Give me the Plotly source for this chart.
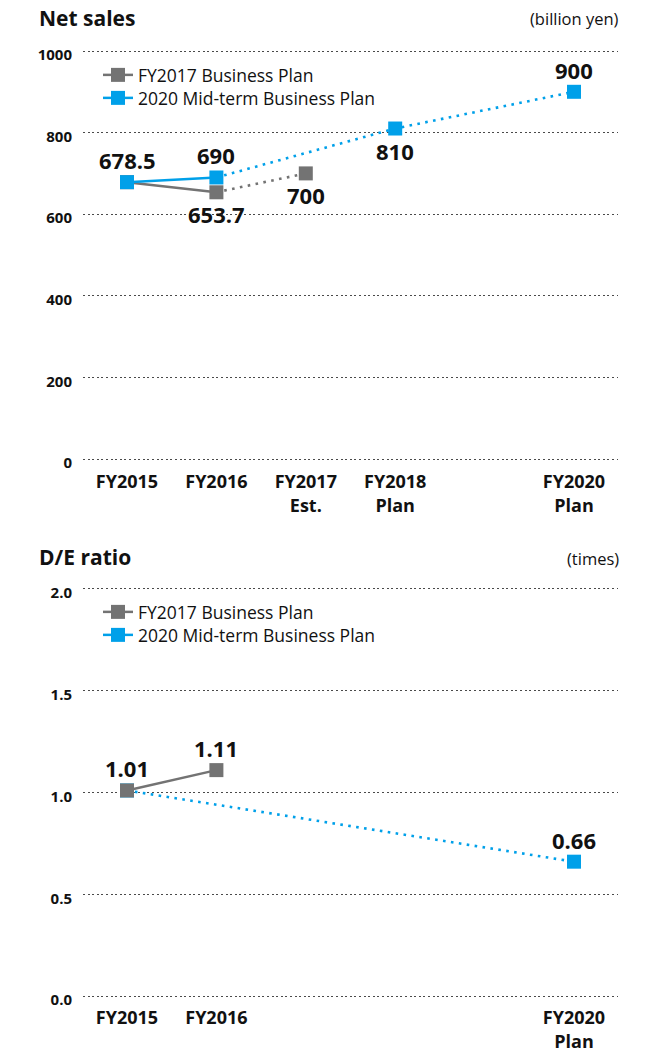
import plotly.graph_objects as go

# ---- data ----
years = [2015, 2016, 2017, 2018, 2020]
sales_tick_text = ["FY2015", "FY2016", "FY2017<br>Est.", "FY2018<br>Plan", "FY2020<br>Plan"]
de_years = [2015, 2016, 2020]
de_tick_text = ["FY2015", "FY2016", "FY2020<br>Plan"]
last_actual_year = 2016

series_names = ["FY2017 Business Plan", "2020 Mid-term Business Plan"]

# Net sales (billion yen)
sales_fy2017_x = [2015, 2016, 2017]
sales_fy2017_y = [678.5, 653.7, 700]
sales_mtp2020_x = [2015, 2016, 2018, 2020]
sales_mtp2020_y = [678.5, 690, 810, 900]

# D/E ratio (times)
de_fy2017_x = [2015, 2016]
de_fy2017_y = [1.01, 1.11]
de_mtp2020_x = [2015, 2020]
de_mtp2020_y = [1.01, 0.66]

# label placement per point: +1 above the marker, -1 below
sales_fy2017_side = [0, -1, -1]
sales_mtp2020_side = [1, 1, -1, 1]
de_fy2017_side = [1, 1]
de_mtp2020_side = [0, 1]

GRAY = "#737373"
BLUE = "#00a0e9"
INK = "#111111"
FONT = "Open Sans"

W, H = 661, 1053


def px_x(p):
    return p / W


def px_y(p):
    return 1 - p / H


fig = go.Figure()


def add_series(x, y, color, name, xa, ya, legend, sides, fmt):
    # solid segment for actual results, dotted segment for plans
    solid = [(a, b) for a, b in zip(x, y) if a <= last_actual_year]
    k = len(solid) - 1
    if len(solid) > 1:
        fig.add_trace(go.Scatter(
            x=[p[0] for p in solid], y=[p[1] for p in solid], mode="lines",
            line=dict(color=color, width=2.5), xaxis=xa, yaxis=ya,
            showlegend=False, hoverinfo="skip"))
    if len(x) - 1 > k:
        fig.add_trace(go.Scatter(
            x=x[k:], y=y[k:], mode="lines",
            line=dict(color=color, width=2.6, dash="2.6px,5.4px"),
            xaxis=xa, yaxis=ya, showlegend=False, hoverinfo="skip"))
    fig.add_trace(go.Scatter(
        x=x, y=y, mode="markers",
        marker=dict(symbol="square", size=14, color=color, line=dict(width=0)),
        xaxis=xa, yaxis=ya, showlegend=False, hoverinfo="skip"))
    # legend entry
    fig.add_trace(go.Scatter(
        x=[None], y=[None], mode="lines+markers", name=name,
        line=dict(color=color, width=2.5),
        marker=dict(symbol="square", size=14, color=color, line=dict(width=0)),
        xaxis=xa, yaxis=ya, legend=legend))
    for xv, yv, s in zip(x, y, sides):
        if s == 0:
            continue
        fig.add_annotation(
            x=xv, y=yv, xref=xa, yref=ya, text=fmt(yv), showarrow=False,
            yshift=22 * s, xanchor="center", yanchor="middle",
            font=dict(family=FONT, size=22, color=INK, weight="bold"))


def fmt_sales(v):
    return f"{v:g}"


def fmt_de(v):
    return f"{v:.2f}"


# Net sales panel: blue drawn above gray
add_series(sales_fy2017_x, sales_fy2017_y, GRAY, series_names[0], "x", "y", "legend",
           sales_fy2017_side, fmt_sales)
add_series(sales_mtp2020_x, sales_mtp2020_y, BLUE, series_names[1], "x", "y", "legend2",
           sales_mtp2020_side, fmt_sales)
# D/E panel: gray drawn above blue
add_series(de_mtp2020_x, de_mtp2020_y, BLUE, series_names[1], "x2", "y2", "legend4",
           de_mtp2020_side, fmt_de)
add_series(de_fy2017_x, de_fy2017_y, GRAY, series_names[0], "x2", "y2", "legend3",
           de_fy2017_side, fmt_de)

x_left, x_right = 83, 618
per_year = (574 - 127) / 5.0
x_range = [2015 - (127 - x_left) / per_year, 2020 + (x_right - 574) / per_year]
x_domain = [px_x(x_left), px_x(x_right)]

grid = dict(showgrid=True, gridcolor="#4a4a4a", gridwidth=1, griddash="2px,2.6px")
ytick_font = dict(family=FONT, size=15, color=INK, weight="bold")
xtick_font = dict(family=FONT, size=18, color=INK, weight="bold")

# sales axis: 0 at y=459px, 1000 at y=51px
s_top, s_bot = 51, 459
s_pad = 15
s_ppu = (s_bot - s_top) / 1000
d_top, d_bot = 589, 996
d_pad = 0.03
d_ppu = (d_bot - d_top) / 2.0

common_x = dict(showgrid=False, zeroline=False, showline=False, ticks="",
                tickfont=xtick_font, automargin=False, tickmode="array")
common_y = dict(zeroline=False, showline=False, ticks="", tickfont=ytick_font,
                ticklabelstandoff=10, ticklabelshift=4, automargin=False, **grid)


def legend_box(center_px):
    # one entry per legend box, centred on the given row
    return dict(x=px_x(98), y=px_y(center_px), xanchor="left", yanchor="middle",
                bgcolor="rgba(0,0,0,0)", borderwidth=0,
                font=dict(family=FONT, size=17.5, color=INK))


fig.update_layout(
    width=W, height=H, margin=dict(l=0, r=0, t=0, b=0, autoexpand=False),
    paper_bgcolor="white", plot_bgcolor="white",
    xaxis=dict(domain=x_domain, range=x_range, tickvals=years,
               ticktext=sales_tick_text, anchor="y", ticklabelstandoff=4, **common_x),
    yaxis=dict(domain=[px_y(s_bot + s_pad * s_ppu), px_y(s_top - s_pad * s_ppu)],
               range=[-s_pad, 1000 + s_pad], tickvals=[0, 200, 400, 600, 800, 1000],
               anchor="x", **common_y),
    xaxis2=dict(domain=x_domain, range=x_range, tickvals=de_years,
                ticktext=de_tick_text, anchor="y2", ticklabelstandoff=3, **common_x),
    yaxis2=dict(domain=[px_y(d_bot + d_pad * d_ppu), px_y(d_top - d_pad * d_ppu)],
                range=[-d_pad, 2 + d_pad], tickvals=[0, 0.5, 1.0, 1.5, 2.0],
                tickformat=".1f", anchor="x2", **common_y),
    legend=legend_box(75),
    legend2=legend_box(98),
    legend3=legend_box(612),
    legend4=legend_box(635),
    showlegend=True,
)

# panel titles and units
titles = [("Net sales", "(billion yen)", 18), ("D/E ratio", "(times)", 557)]
for title, unit, ypix in titles:
    fig.add_annotation(x=px_x(37), y=px_y(ypix), xref="paper", yref="paper",
                       text=title, showarrow=False, xanchor="left", yanchor="middle",
                       font=dict(family=FONT, size=21, color=INK, weight="bold"))
    fig.add_annotation(x=px_x(621), y=px_y(ypix + 1), xref="paper", yref="paper",
                       text=unit, showarrow=False, xanchor="right", yanchor="middle",
                       font=dict(family=FONT, size=16.5, color=INK))

fig.write_html("out.html")
